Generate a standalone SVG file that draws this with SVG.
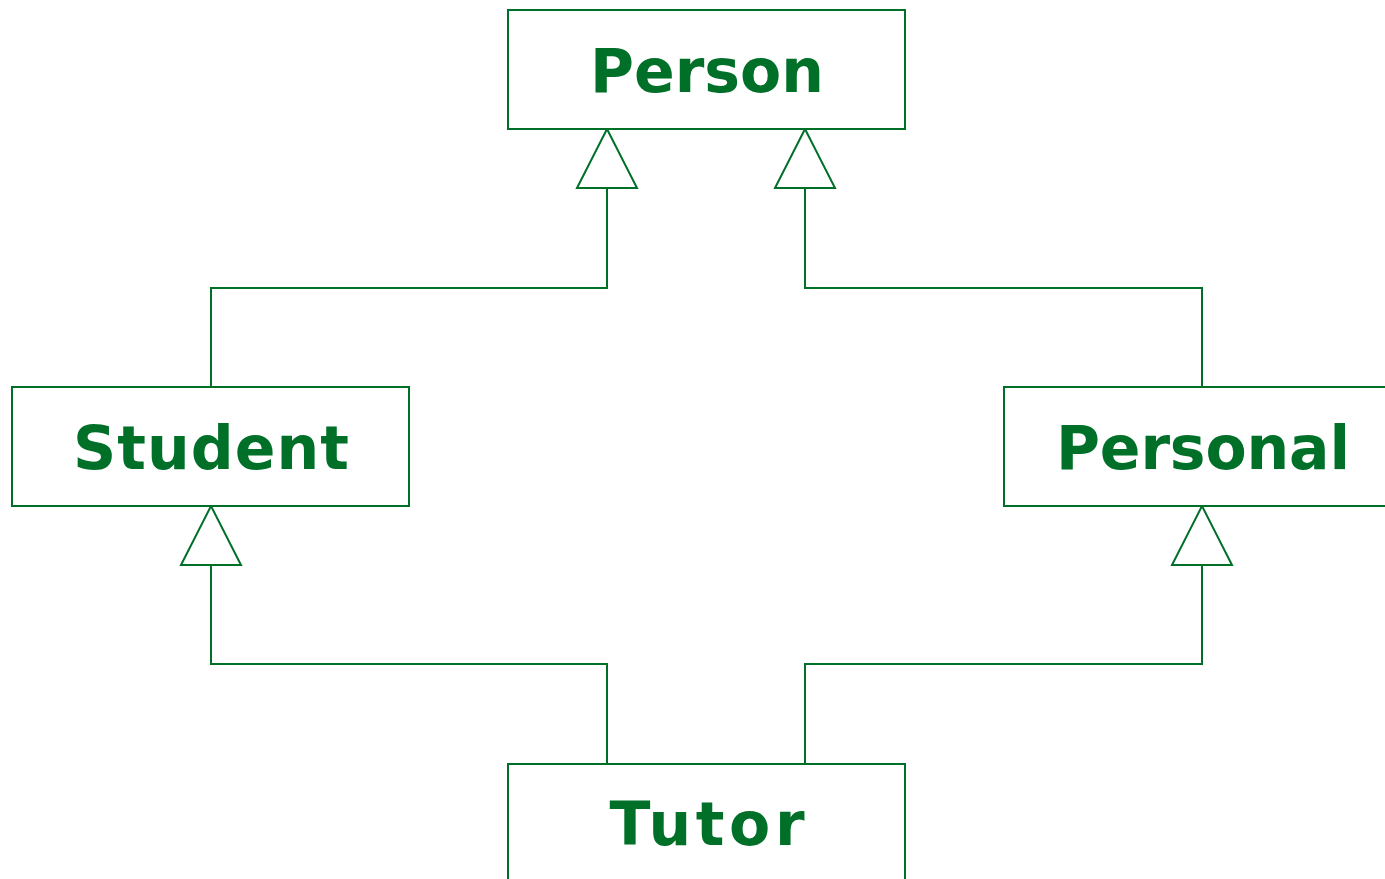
<svg xmlns="http://www.w3.org/2000/svg" width="1385" height="879" viewBox="0 0 1385 879">
<style>
.box{fill:#fff;stroke:#007029;stroke-width:2}
.lbl{font-family:"DejaVu Sans",sans-serif;font-weight:bold;font-size:60px;fill:#007029;text-anchor:middle}
.con{fill:none;stroke:#007029;stroke-width:2}
.tri{fill:#fff;stroke:#007029;stroke-width:2;stroke-linejoin:miter}
</style>
<rect width="1385" height="879" fill="#fff"/>
<g id="connectors">
<path class="con" d="M607,188 V288 H211 V387"/>
<path class="con" d="M805,188 V288 H1202 V387"/>
<path class="con" d="M211,565 V664 H607 V764"/>
<path class="con" d="M1202,565 V664 H805 V764"/>
<polygon class="tri" points="607,129 577,188 637,188"/>
<polygon class="tri" points="805,129 775,188 835,188"/>
<polygon class="tri" points="211,506 181,565 241,565"/>
<polygon class="tri" points="1202,506 1172,565 1232,565"/>
</g>
<g id="person">
<rect class="box" x="508" y="10" width="397" height="119"/>
<text class="lbl" x="707" y="92" textLength="234" lengthAdjust="spacing">Person</text>
</g>
<g id="student">
<rect class="box" x="12" y="387" width="397" height="119"/>
<text class="lbl" x="211" y="469" textLength="276" lengthAdjust="spacing">Student</text>
</g>
<g id="personal">
<rect class="box" x="1004" y="387" width="397" height="119"/>
<text class="lbl" x="1203" y="469" textLength="294" lengthAdjust="spacing">Personal</text>
</g>
<g id="tutor">
<rect class="box" x="508" y="764" width="397" height="119"/>
<text class="lbl" x="707" y="845" textLength="195" lengthAdjust="spacing">Tutor</text>
</g>
</svg>
